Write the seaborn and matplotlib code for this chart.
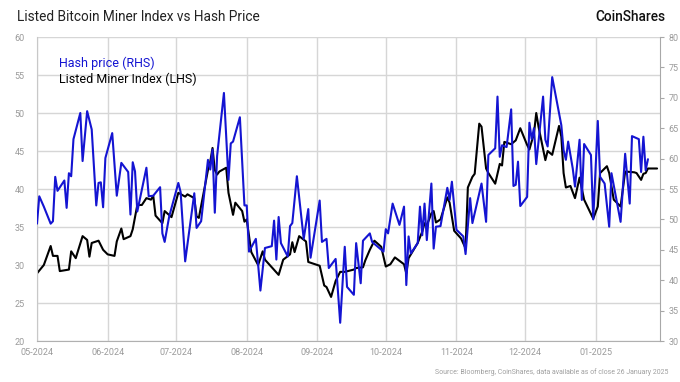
import matplotlib
matplotlib.use("Agg")
import matplotlib.pyplot as plt
import matplotlib.dates as mdates
import pandas as pd
import seaborn as sns


START = pd.Timestamp("2024-05-01")
BLUE = "#1414d2"

# Hash price (RHS), days since 1 May 2024
hash_days = [
    0, 1, 3, 6, 7, 8, 9, 12, 13, 14, 15, 16, 19, 20, 22, 24, 26, 27, 28, 29,
    30, 33, 35, 37, 40, 41, 42, 43, 44, 48, 49, 51, 54, 55, 56, 58, 62, 63, 65, 69,
    70, 72, 75, 76, 77, 78, 79, 82, 84, 85, 86, 89, 91, 92, 93, 96, 98, 100, 103, 104,
    105, 106, 107, 110, 111, 112, 114, 117, 119, 120, 124, 125, 127, 128, 131, 133, 135, 136, 139, 140,
    142, 143, 146, 147, 152, 153, 154, 156, 159, 161, 162, 163, 164, 167, 168, 169, 170, 171, 173, 174,
    175, 177, 180, 181, 182, 184, 187, 188, 190, 191, 195, 197, 198, 201, 202, 203, 204, 206, 208, 209,
    210, 211, 212, 215, 216, 217, 218, 219, 222, 223, 224, 226, 230, 231, 232, 233, 235, 236, 238, 239,
    240, 243, 244, 246, 247, 249, 251, 252, 256, 258, 260, 261, 264, 265, 266, 267, 268,
]
hash_price = [
    49.3, 53.8, 52.1, 49.3, 49.7, 57.0, 54.7, 56.4, 51.9, 57.6, 57.1, 63.2, 67.5, 59.6, 67.8, 64.8, 52.3, 56.0, 56.1, 52.0,
    60.1, 64.2, 53.9, 59.3, 57.8, 50.8, 59.4, 57.9, 51.3, 58.5, 53.8, 53.9, 55.3, 47.7, 46.3, 50.5, 56.0, 54.5, 43.1, 54.3,
    48.6, 49.7, 59.8, 58.2, 61.5, 51.1, 60.4, 70.8, 56.5, 62.5, 62.8, 66.8, 52.3, 52.3, 44.7, 46.8, 38.3, 45.3, 45.6, 49.8,
    43.4, 50.4, 46.1, 43.9, 48.9, 49.4, 57.1, 46.8, 51.7, 43.7, 53.1, 46.3, 46.8, 42.0, 43.5, 33.0, 45.5, 38.9, 37.6, 46.1,
    39.5, 46.5, 47.7, 46.3, 44.7, 48.4, 47.7, 52.6, 49.1, 52.1, 39.2, 47.2, 44.4, 46.1, 52.1, 47.4, 52.6, 46.6, 55.9, 45.2,
    48.8, 48.9, 55.2, 53.2, 56.2, 48.3, 47.2, 44.3, 53.5, 49.4, 55.9, 49.6, 60.6, 61.7, 70.2, 60.3, 62.2, 61.9, 68.1, 55.5,
    55.7, 59.5, 52.2, 53.7, 65.9, 63.2, 65.0, 59.1, 70.2, 63.1, 62.0, 73.4, 65.5, 61.4, 59.8, 62.8, 58.4, 55.4, 63.1, 53.2,
    62.4, 60.6, 50.0, 66.2, 57.0, 55.9, 48.8, 57.6, 49.6, 60.8, 52.6, 63.7, 63.2, 57.8, 63.6, 58.1, 59.9,
]

# Listed Miner Index (LHS), days since 1 May 2024
miner_days = [
    0, 3, 6, 7, 9, 10, 14, 15, 17, 20, 22, 23, 24, 27, 29, 31, 34, 35, 37, 38,
    41, 42, 44, 46, 48, 50, 51, 52, 55, 56, 59, 62, 65, 66, 69, 70, 71, 75, 76, 77,
    78, 79, 80, 83, 84, 86, 87, 90, 91, 92, 94, 97, 99, 100, 106, 108, 111, 112, 113, 115,
    118, 119, 121, 124, 126, 127, 129, 131, 133, 135, 139, 140, 143, 144, 146, 148, 151, 153, 155, 157,
    161, 162, 163, 167, 169, 170, 171, 173, 174, 175, 177, 180, 181, 183, 186, 188, 189, 191, 192, 194,
    195, 197, 198, 201, 203, 204, 205, 208, 210, 212, 215, 216, 218, 219, 220, 223, 224, 226, 229, 230,
    231, 232, 234, 236, 238, 240, 244, 246, 247, 250, 251, 253, 256, 258, 262, 263, 265, 266, 267, 268,
    272,
]
miner_index = [
    28.9, 30.0, 32.5, 31.2, 31.2, 29.2, 29.4, 31.8, 30.9, 33.8, 33.3, 31.1, 32.9, 33.2, 32.0, 31.4, 31.2, 33.1, 34.8, 33.4,
    33.8, 34.7, 37.9, 37.9, 38.8, 38.6, 39.1, 36.5, 35.5, 37.1, 36.3, 39.5, 39.0, 39.3, 38.8, 36.4, 36.2, 42.5, 43.6, 45.4,
    42.5, 41.9, 42.3, 42.8, 39.5, 36.6, 38.2, 37.1, 35.7, 36.0, 31.7, 30.0, 31.8, 30.7, 28.7, 30.7, 31.4, 33.0, 31.7, 33.8,
    33.1, 30.4, 30.2, 29.9, 27.3, 27.1, 25.8, 27.9, 29.1, 29.1, 29.4, 29.6, 29.7, 30.6, 32.0, 33.2, 32.4, 29.8, 30.1, 31.0,
    30.1, 28.9, 30.9, 32.9, 34.4, 35.5, 35.2, 36.8, 37.1, 35.6, 36.0, 38.9, 38.2, 34.5, 33.5, 32.2, 40.2, 41.6, 42.0, 48.6,
    48.2, 42.7, 42.1, 40.7, 43.3, 43.1, 46.2, 45.9, 46.4, 48.0, 45.8, 45.2, 47.3, 50.0, 48.2, 43.8, 45.0, 44.5, 48.3, 46.9,
    42.1, 40.2, 40.4, 38.8, 41.5, 38.6, 36.1, 37.7, 42.1, 43.0, 42.1, 38.6, 37.7, 42.3, 42.2, 42.1, 41.2, 42.0, 42.1, 42.7,
    42.7,
]

left_ticks = [20, 25, 30, 35, 40, 45, 50, 55, 60]
right_ticks = [30, 35, 40, 45, 50, 55, 60, 65, 70, 75, 80]

hash_df = pd.DataFrame({"date": START + pd.to_timedelta(hash_days, unit="D"), "value": hash_price})
miner_df = pd.DataFrame({"date": START + pd.to_timedelta(miner_days, unit="D"), "value": miner_index})

sns.set_style("white")
plt.rcParams["font.family"] = ["Roboto", "DejaVu Sans"]

fig = plt.figure(figsize=(6.8, 3.82), dpi=100)
ax = fig.add_axes([0.0544, 0.1073, 0.9169, 0.7958])
ax2 = ax.twinx()

sns.lineplot(data=miner_df, x="date", y="value", ax=ax, color="black", linewidth=1.5)
sns.lineplot(data=hash_df, x="date", y="value", ax=ax2, color=BLUE, linewidth=1.5)

ax.set_xlim(pd.Timestamp("2024-05-01"), pd.Timestamp("2025-01-29 12:00"))
ax.set_ylim(20, 60)
ax2.set_ylim(30, 80)
ax.set_yticks(left_ticks)
ax2.set_yticks(right_ticks)
ax.xaxis.set_major_locator(mdates.MonthLocator())
ax.xaxis.set_major_formatter(mdates.DateFormatter("%m-%Y"))

ax.grid(True, color="#d6d6d6", linewidth=1.0)
ax.set_axisbelow(True)
for a in (ax, ax2):
    a.set_xlabel("")
    a.set_ylabel("")
    for s in a.spines.values():
        s.set_visible(False)

ax.spines["left"].set_visible(True)
ax.spines["left"].set_color("#c8c8c8")
ax.spines["bottom"].set_visible(True)
ax.spines["bottom"].set_color("#b0b0b0")
ax2.spines["right"].set_visible(True)
ax2.spines["right"].set_color("#a8a8a8")

ax.tick_params(axis="y", length=0, pad=9, labelsize=6.5, labelcolor="#9a9a9a")
ax.tick_params(axis="x", length=0, pad=5, labelsize=6.5, labelcolor="#9a9a9a")
ax2.tick_params(axis="y", length=3, width=0.8, color="#a8a8a8", pad=3,
                labelsize=6.5, labelcolor="#9a9a9a")

ax.text(0.035, 0.914, "Hash price (RHS)", transform=ax.transAxes, color=BLUE,
        fontsize=9, va="center", ha="left")
ax.text(0.035, 0.862, "Listed Miner Index (LHS)", transform=ax.transAxes, color="black",
        fontsize=9, va="center", ha="left")

fig.text(17 / 680, 1 - 17 / 382, "Listed Bitcoin Miner Index vs Hash Price",
         fontsize=9.8, color="#222222", va="center", ha="left")
fig.text(665 / 680, 1 - 17 / 382, "CoinShares", fontsize=9.8, fontweight="medium",
         color="#111111", va="center", ha="right")
fig.text(668 / 680, 1 - 372 / 382,
         "Source: Bloomberg, CoinShares, data available as of close 26 January 2025",
         fontsize=5.0, color="#a0a0a0", va="center", ha="right")

fig.savefig("out.png", dpi=100)
